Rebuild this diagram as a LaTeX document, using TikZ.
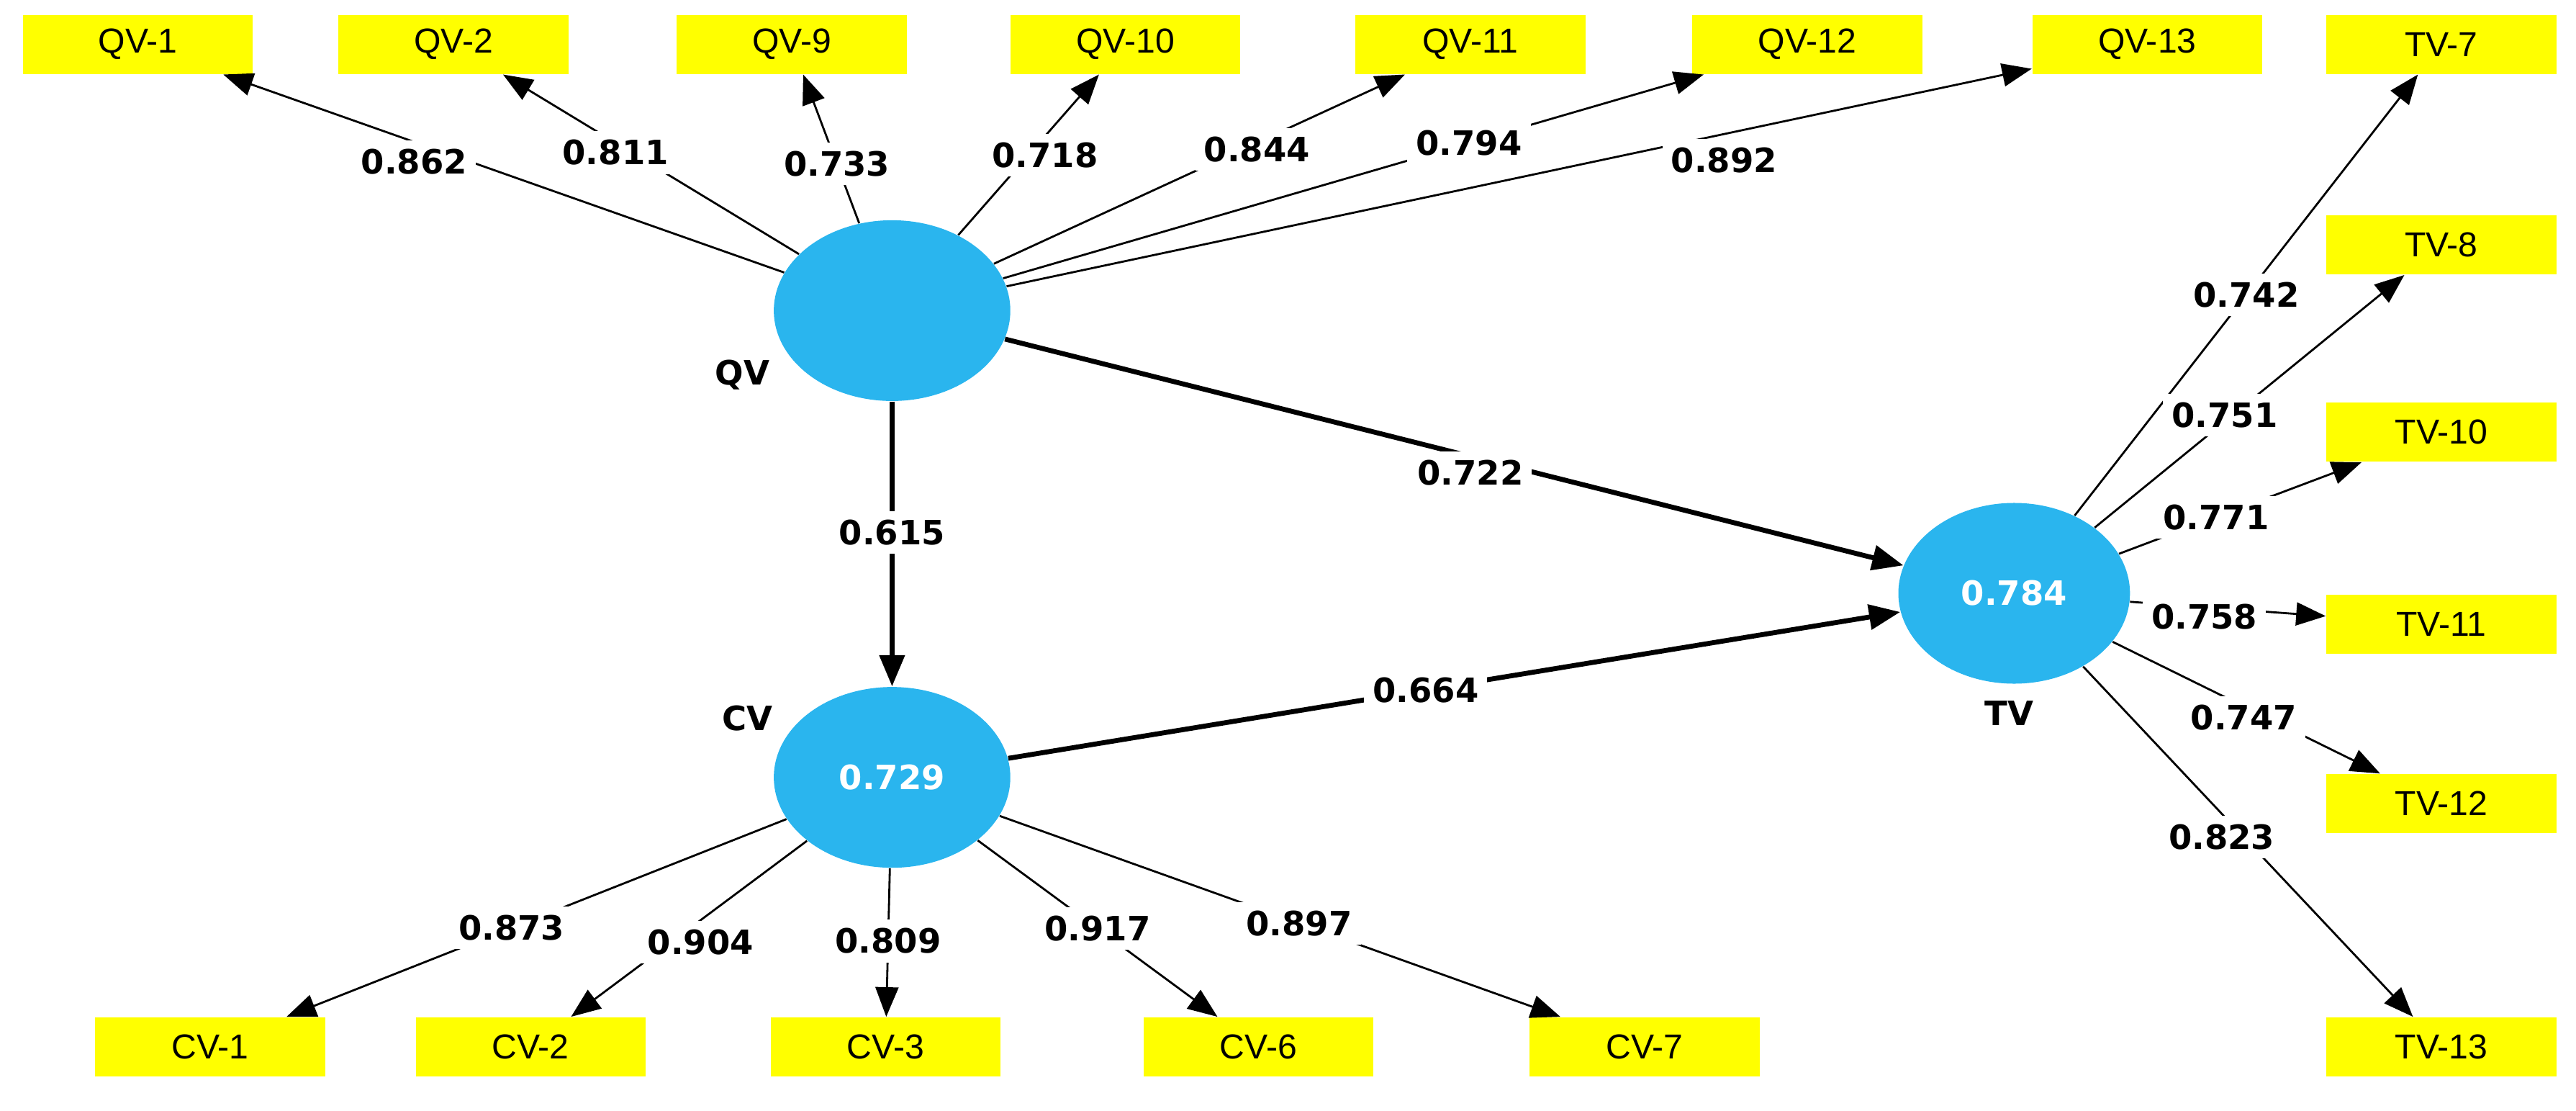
\documentclass[tikz,border=0pt]{standalone}
\usepackage{fontspec}
\setmainfont{Liberation Sans}
\newfontfamily\valfont{DejaVu Sans}
\usetikzlibrary{shapes.geometric,arrows.meta}
\definecolor{lvblue}{RGB}{42,181,238}
\definecolor{mvyellow}{RGB}{255,255,0}
\tikzset{
    lv/.style = {ellipse, fill = lvblue, minimum width = 2.88cm, minimum height = 2.2cm, inner sep = 0pt, text = white, font = \valfont\bfseries\fontsize{11.6}{12}\selectfont},
    mv/.style = {rectangle, fill = mvyellow, minimum width = 2.8cm, minimum height = 0.72cm, inner sep = 0pt, font = \fontsize{12}{13}\selectfont},
    val/.style = {fill = white, inner sep = 3pt, font = \valfont\bfseries\fontsize{11.6}{12}\selectfont},
    lvname/.style = {font = \valfont\bfseries\fontsize{11.6}{12}\selectfont},
    load/.style = {-{Triangle[length = 0.36cm, width = 0.28cm]}, line width = 0.7pt},
    struct/.style = {-{Triangle[length = 0.38cm, width = 0.3cm]}, line width = 1.7pt}
}
\begin{document}
\begin{tikzpicture}[x = 0.02cm, y = -0.02cm]
        \useasboundingbox (0, 0) rectangle (1568, 676);

        \node [lv] (qv) at (543, 189) {};
        \node [lv] (cv) at (543, 473) {0.729};
        \node [lv, minimum width = 2.82cm] (tv) at (1226, 361) {0.784};
        \node [lvname] (qvname) at (452, 228) {QV};
        \node [lvname] (cvname) at (455, 437) {CV};
        \node [lvname] (tvname) at (1223, 434) {TV};

        \node [mv] (qv1) at (84, 27) {QV-1};
        \node [mv] (qv2) at (276, 27) {QV-2};
        \node [mv] (qv9) at (482, 27) {QV-9};
        \node [mv] (qv10) at (685, 27) {QV-10};
        \node [mv] (qv11) at (895, 27) {QV-11};
        \node [mv] (qv12) at (1100, 27) {QV-12};
        \node [mv] (qv13) at (1307, 27) {QV-13};

        \node [mv] (tv7) at (1486, 27) {TV-7};
        \node [mv] (tv8) at (1486, 149) {TV-8};
        \node [mv] (tv10) at (1486, 263) {TV-10};
        \node [mv] (tv11) at (1486, 380) {TV-11};
        \node [mv] (tv12) at (1486, 489) {TV-12};
        \node [mv] (tv13) at (1486, 637) {TV-13};

        \node [mv] (cv1) at (128, 637) {CV-1};
        \node [mv] (cv2) at (323, 637) {CV-2};
        \node [mv] (cv3) at (539, 637) {CV-3};
        \node [mv] (cv6) at (766, 637) {CV-6};
        \node [mv] (cv7) at (1001, 637) {CV-7};

        \draw [load] (qv) -- node [val, pos = 0.66, yshift = -0.24cm] {0.862} (qv1);
        \draw [load] (qv) -- node [val, pos = 0.62, yshift = -0.12cm] {0.811} (qv2);
        \draw [load] (qv) -- node [val, pos = 0.40] {0.733} (qv9);
        \draw [load] (qv) -- node [val, pos = 0.57, yshift = -0.14cm, xshift = 0.08cm] {0.718} (qv10);
        \draw [load] (qv) -- node [val, pos = 0.64, yshift = -0.08cm] {0.844} (qv11);
        \draw [load] (qv) -- node [val, pos = 0.665] {0.794} (qv12);
        \draw [load] (qv) -- node [val, pos = 0.70, yshift = -0.32cm] {0.892} (qv13);

        \draw [load] (tv) -- node [val, pos = 0.50] {0.742} (tv7);
        \draw [load] (tv) -- node [val, pos = 0.42, yshift = 0.08cm] {0.751} (tv8);
        \draw [load] (tv) -- node [val, pos = 0.40] {0.771} (tv10);
        \draw [load] (tv) -- node [val, pos = 0.38, yshift = -0.12cm] {0.758} (tv11);
        \draw [load] (tv) -- node [val, pos = 0.49, yshift = -0.14cm] {0.747} (tv12);
        \draw [load] (tv) -- node [val, pos = 0.45, yshift = -0.16cm, xshift = -0.12cm] {0.823} (tv13);

        \draw [load] (cv) -- node [val, pos = 0.55] {0.873} (cv1);
        \draw [load] (cv) -- node [val, pos = 0.50, yshift = -0.16cm, xshift = 0.14cm] {0.904} (cv2);
        \draw [load] (cv) -- node [val, pos = 0.49] {0.809} (cv3);
        \draw [load] (cv) -- node [val, pos = 0.50] {0.917} (cv6);
        \draw [load] (cv) -- node [val, pos = 0.534] {0.897} (cv7);

        \draw [struct] (qv) -- node [val, pos = 0.518, yshift = -0.2cm] {0.722} (tv);
        \draw [struct] (qv) -- node [val, pos = 0.46] {0.615} (cv);
        \draw [struct] (cv) -- node [val, pos = 0.468] {0.664} (tv);
    \end{tikzpicture}
\end{document}
